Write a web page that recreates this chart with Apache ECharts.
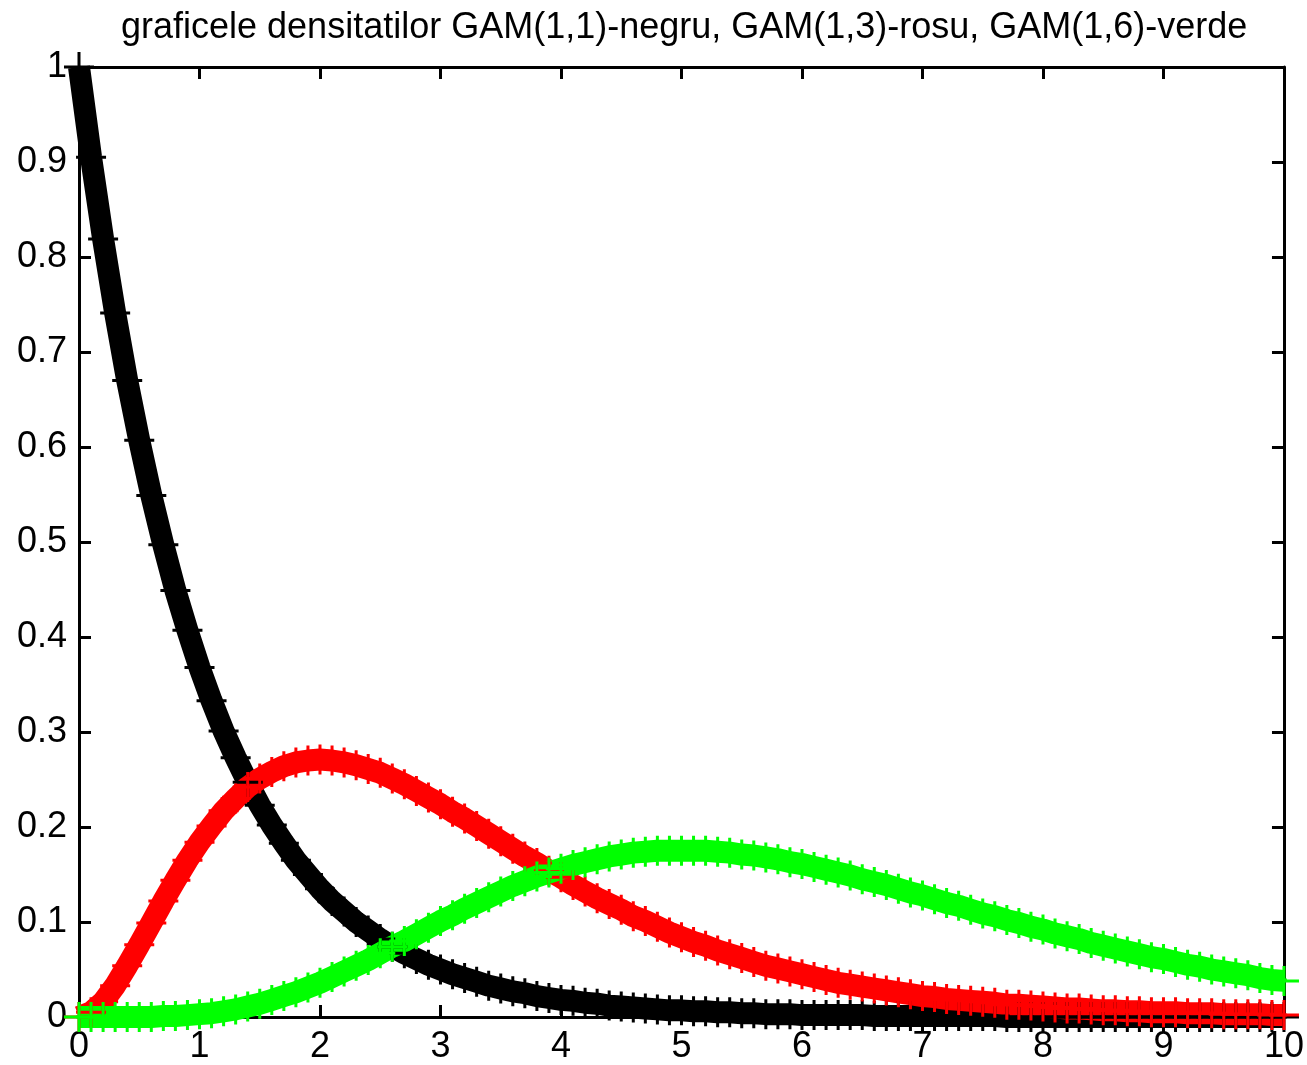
<!DOCTYPE html>
<html>
<head>
<meta charset="utf-8">
<script src="https://cdn.jsdelivr.net/npm/echarts@6/dist/echarts.min.js"></script>
<style>
  html, body { margin: 0; padding: 0; background: #fff; }
  #chart { width: 1307px; height: 1065px; }
</style>
</head>
<body>
<div id="chart"></div>
<script>
// sample positions along x
const xValues = [
  0.0, 0.1, 0.2, 0.3, 0.4, 0.5, 0.6, 0.7, 0.8, 0.9,
  1.0, 1.1, 1.2, 1.3, 1.4, 1.5, 1.6, 1.7, 1.8, 1.9,
  2.0, 2.1, 2.2, 2.3, 2.4, 2.5, 2.6, 2.7, 2.8, 2.9,
  3.0, 3.1, 3.2, 3.3, 3.4, 3.5, 3.6, 3.7, 3.8, 3.9,
  4.0, 4.1, 4.2, 4.3, 4.4, 4.5, 4.6, 4.7, 4.8, 4.9,
  5.0, 5.1, 5.2, 5.3, 5.4, 5.5, 5.6, 5.7, 5.8, 5.9,
  6.0, 6.1, 6.2, 6.3, 6.4, 6.5, 6.6, 6.7, 6.8, 6.9,
  7.0, 7.1, 7.2, 7.3, 7.4, 7.5, 7.6, 7.7, 7.8, 7.9,
  8.0, 8.1, 8.2, 8.3, 8.4, 8.5, 8.6, 8.7, 8.8, 8.9,
  9.0, 9.1, 9.2, 9.3, 9.4, 9.5, 9.6, 9.7, 9.8, 9.9,
  10.0
];

// GAM(1,1) density - black
const densGam11 = [
  1.000, 0.905, 0.819, 0.741, 0.670, 0.607, 0.549, 0.497, 0.449, 0.407,
  0.368, 0.333, 0.301, 0.273, 0.247, 0.223, 0.202, 0.183, 0.165, 0.150,
  0.135, 0.122, 0.111, 0.100, 0.091, 0.082, 0.074, 0.067, 0.061, 0.055,
  0.050, 0.045, 0.041, 0.037, 0.033, 0.030, 0.027, 0.025, 0.022, 0.020,
  0.018, 0.017, 0.015, 0.014, 0.012, 0.011, 0.010, 0.009, 0.008, 0.007,
  0.007, 0.006, 0.006, 0.005, 0.005, 0.004, 0.004, 0.003, 0.003, 0.003,
  0.002, 0.002, 0.002, 0.002, 0.002, 0.002, 0.001, 0.001, 0.001, 0.001,
  0.001, 0.001, 0.001, 0.001, 0.001, 0.001, 0.001, 0.000, 0.000, 0.000,
  0.000, 0.000, 0.000, 0.000, 0.000, 0.000, 0.000, 0.000, 0.000, 0.000,
  0.000, 0.000, 0.000, 0.000, 0.000, 0.000, 0.000, 0.000, 0.000, 0.000,
  0.000
];

// GAM(1,3) density - red
const densGam13 = [
  0.000, 0.005, 0.016, 0.033, 0.054, 0.076, 0.099, 0.122, 0.144, 0.165,
  0.184, 0.201, 0.217, 0.230, 0.242, 0.251, 0.258, 0.264, 0.268, 0.270,
  0.271, 0.270, 0.268, 0.265, 0.261, 0.257, 0.251, 0.245, 0.238, 0.231,
  0.224, 0.216, 0.209, 0.201, 0.193, 0.185, 0.177, 0.169, 0.162, 0.154,
  0.147, 0.139, 0.132, 0.125, 0.119, 0.113, 0.106, 0.101, 0.095, 0.089,
  0.084, 0.079, 0.075, 0.070, 0.066, 0.062, 0.058, 0.054, 0.051, 0.048,
  0.045, 0.042, 0.039, 0.036, 0.034, 0.032, 0.030, 0.028, 0.026, 0.024,
  0.022, 0.021, 0.019, 0.018, 0.017, 0.016, 0.015, 0.013, 0.013, 0.012,
  0.011, 0.010, 0.009, 0.009, 0.008, 0.007, 0.007, 0.006, 0.006, 0.005,
  0.005, 0.005, 0.004, 0.004, 0.004, 0.003, 0.003, 0.003, 0.003, 0.002,
  0.002
];

// GAM(1,6) density - green
const densGam16 = [
  0.000, 0.000, 0.000, 0.000, 0.000, 0.000, 0.000, 0.001, 0.001, 0.002,
  0.003, 0.004, 0.006, 0.008, 0.011, 0.014, 0.018, 0.022, 0.026, 0.031,
  0.036, 0.042, 0.048, 0.054, 0.060, 0.067, 0.074, 0.080, 0.087, 0.094,
  0.101, 0.107, 0.114, 0.120, 0.126, 0.132, 0.138, 0.143, 0.148, 0.152,
  0.156, 0.160, 0.163, 0.166, 0.169, 0.171, 0.173, 0.174, 0.175, 0.175,
  0.175, 0.175, 0.175, 0.174, 0.173, 0.171, 0.170, 0.168, 0.166, 0.163,
  0.161, 0.158, 0.155, 0.152, 0.149, 0.145, 0.142, 0.139, 0.135, 0.131,
  0.128, 0.124, 0.120, 0.117, 0.113, 0.109, 0.106, 0.102, 0.099, 0.095,
  0.092, 0.088, 0.085, 0.082, 0.078, 0.075, 0.072, 0.069, 0.066, 0.063,
  0.061, 0.058, 0.055, 0.053, 0.050, 0.048, 0.046, 0.044, 0.041, 0.039,
  0.038
];

const xTicks = [0, 1, 2, 3, 4, 5, 6, 7, 8, 9, 10];
const yTicks = ['0', '0.1', '0.2', '0.3', '0.4', '0.5', '0.6', '0.7', '0.8', '0.9', '1'];
const titleText = 'graficele densitatilor GAM(1,1)-negru, GAM(1,3)-rosu, GAM(1,6)-verde';

const FONT = '"Liberation Sans", Arial, sans-serif';
// plus-shaped marker (thin arms)
const PLUS = 'path://M9,0h2v9h9v2h-9v9h-2v-9h-9v-2h9z';

function pairs(ys) { return xValues.map((x, i) => [x, ys[i]]); }

function curve(name, color, ys) {
  return {
    name: name,
    type: 'line',
    data: pairs(ys),
    clip: false,
    smooth: false,
    symbol: PLUS,
    symbolSize: 30,
    showSymbol: true,
    showAllSymbol: true,
    itemStyle: { color: color, borderWidth: 0 },
    lineStyle: { color: color, width: 22 },
    emphasis: { disabled: true },
    animation: false
  };
}

const axisLine = { show: true, onZero: false, lineStyle: { color: '#000', width: 3 } };
const tick = { show: true, inside: true, length: 12, lineStyle: { color: '#000', width: 3 } };

const chart = echarts.init(document.getElementById('chart'), null, { renderer: 'canvas' });
chart.setOption({
  animation: false,
  backgroundColor: '#fff',
  title: {
    text: titleText,
    left: 116,
    top: 5,
    textStyle: { fontFamily: FONT, fontSize: 36, fontWeight: 'normal', color: '#000' }
  },
  grid: { left: 79, right: 22, top: 67, bottom: 48, containLabel: false },
  xAxis: [
    {
      type: 'value', min: 0, max: 10, interval: 1, position: 'bottom',
      axisLine: axisLine, axisTick: tick, splitLine: { show: false },
      axisLabel: {
        color: '#000', fontFamily: FONT, fontSize: 36, margin: 12,
        formatter: v => String(xTicks[Math.round(v)])
      }
    },
    {
      type: 'value', min: 0, max: 10, interval: 1, position: 'top',
      axisLine: axisLine, axisTick: tick, splitLine: { show: false },
      axisLabel: { show: false }
    }
  ],
  yAxis: [
    {
      type: 'value', min: 0, max: 1, interval: 0.1, position: 'left',
      axisLine: axisLine, axisTick: tick, splitLine: { show: false },
      axisLabel: {
        color: '#000', fontFamily: FONT, fontSize: 36, margin: 12,
        formatter: v => yTicks[Math.round(v * 10)]
      }
    },
    {
      type: 'value', min: 0, max: 1, interval: 0.1, position: 'right',
      axisLine: axisLine, axisTick: tick, splitLine: { show: false },
      axisLabel: { show: false }
    }
  ],
  series: [
    curve('GAM(1,1)', '#000000', densGam11),
    curve('GAM(1,3)', '#ff0000', densGam13),
    curve('GAM(1,6)', '#00ff00', densGam16)
  ]
});
</script>
</body>
</html>
